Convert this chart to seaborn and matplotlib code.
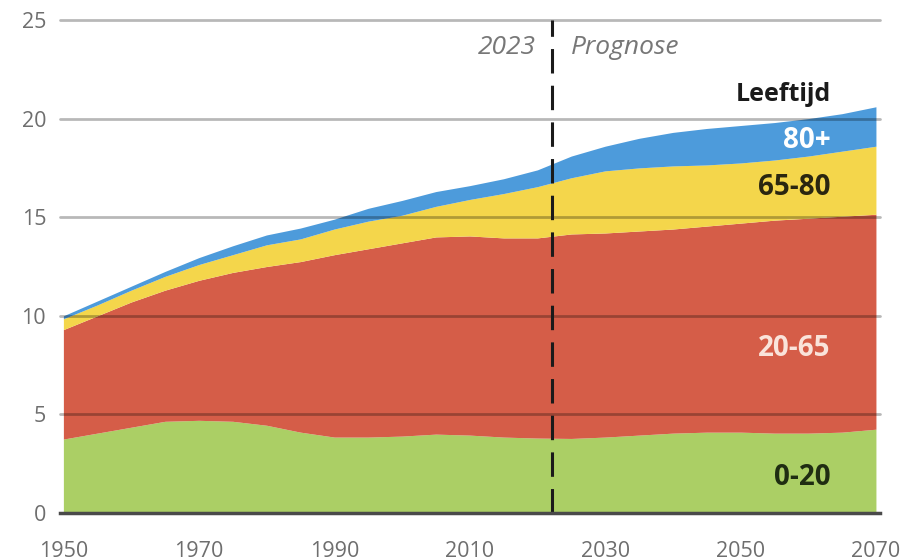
import numpy as np
import pandas as pd
import matplotlib
matplotlib.use('Agg')
import matplotlib.pyplot as plt
import seaborn as sns

# Bevolking Nederland naar leeftijd (miljoen), waarneming t/m 2023, daarna prognose
years = [1950, 1955, 1960, 1965, 1970, 1975, 1980, 1985, 1990, 1995, 2000, 2005,
         2010, 2015, 2020, 2025, 2030, 2035, 2040, 2045, 2050, 2055, 2060, 2065, 2070]
age_0_20 = [3.75, 4.05, 4.35, 4.65, 4.70, 4.65, 4.45, 4.10, 3.85, 3.85, 3.90, 4.00,
            3.95, 3.85, 3.80, 3.78, 3.85, 3.95, 4.05, 4.10, 4.10, 4.05, 4.05, 4.10, 4.25]
age_20_65 = [5.55, 5.95, 6.35, 6.65, 7.10, 7.55, 8.05, 8.65, 9.25, 9.55, 9.80, 10.00,
             10.10, 10.10, 10.15, 10.37, 10.35, 10.35, 10.35, 10.45, 10.60, 10.80, 10.90, 10.95, 10.90]
age_65_80 = [0.55, 0.55, 0.60, 0.70, 0.80, 0.90, 1.10, 1.15, 1.30, 1.40, 1.40, 1.55,
             1.85, 2.25, 2.60, 2.85, 3.15, 3.20, 3.20, 3.10, 3.05, 3.05, 3.15, 3.30, 3.45]
age_80_plus = [0.15, 0.20, 0.20, 0.25, 0.35, 0.45, 0.50, 0.55, 0.50, 0.65, 0.75, 0.75,
               0.70, 0.75, 0.85, 1.10, 1.25, 1.50, 1.70, 1.85, 1.90, 1.90, 1.90, 1.90, 2.00]

groups = ["0-20", "20-65", "65-80", "80+"]
group_colors = ["#abcf65", "#d55d48", "#f4d64b", "#4d9bdb"]
label_colors = ["#1f2d12", "#fae3da", "#2a2610", "#ffffff"]
label_y = [1.8, 8.35, 16.5, 18.9]

x_ticks = list(range(1950, 2071, 10))
x_labels = [str(y) if (y - 1950) % 20 == 0 else "" for y in x_ticks]
y_ticks = [0, 5, 10, 15, 20, 25]

prognosis_year = 2022.2

df = pd.DataFrame({"year": years, "0-20": age_0_20, "20-65": age_20_65,
                   "65-80": age_65_80, "80+": age_80_plus})

sns.set_theme(style="white")
plt.rcParams['font.family'] = ['Open Sans', 'DejaVu Sans']

fig = plt.figure(figsize=(9.07, 5.6), dpi=100)
ax = fig.add_axes([60 / 907, 47 / 560, 820 / 907, 493 / 560])

palette = sns.color_palette(group_colors)
ax.stackplot(df["year"], [df[g] for g in groups], colors=palette, linewidth=0, zorder=1)

# gridlines drawn on top of the areas, semi-transparent
for yv in y_ticks[1:]:
    ax.axhline(yv, color="black", alpha=0.28, lw=2, zorder=2, clip_on=False)

ax.set_xlim(1949.5, 2070.6)
ax.set_ylim(0, 25)
ax.set_xticks(x_ticks)
ax.set_xticklabels(x_labels)
ax.set_yticks(y_ticks)
ax.tick_params(axis="x", length=3, width=2.5, color="#4a4a4a", labelsize=15.5,
               labelcolor="#6e6e6e", pad=17)
ax.tick_params(axis="y", length=0, labelsize=15.5, labelcolor="#6e6e6e", pad=10)
sns.despine(ax=ax, left=True, top=True, right=True)
ax.spines["bottom"].set_color("#4a4a4a")
ax.spines["bottom"].set_linewidth(2.5)
ax.spines["bottom"].set_zorder(4)

# scheiding waarneming / prognose
ax.axvline(prognosis_year, ymin=0, ymax=1, color="#1a1a1a", lw=2.2,
           dashes=(8, 4), zorder=3, clip_on=False)
ax.text(prognosis_year - 2.4, 23.6, "2023", ha="right", va="center", style="italic",
        fontsize=19, color="#777777")
ax.text(prognosis_year + 2.8, 23.6, "Prognose", ha="left", va="center", style="italic",
        fontsize=19, color="#777777")

label_x = 2063.3
ax.text(label_x, 21.2, "Leeftijd", ha="right", va="center", fontweight="bold",
        fontsize=18, color="#1a1a1a")
for g, c, yv in zip(groups, label_colors, label_y):
    ax.text(label_x, yv, g, ha="right", va="center", fontweight="bold",
            fontsize=20, color=c, zorder=5)

fig.savefig("out.png", dpi=100)
